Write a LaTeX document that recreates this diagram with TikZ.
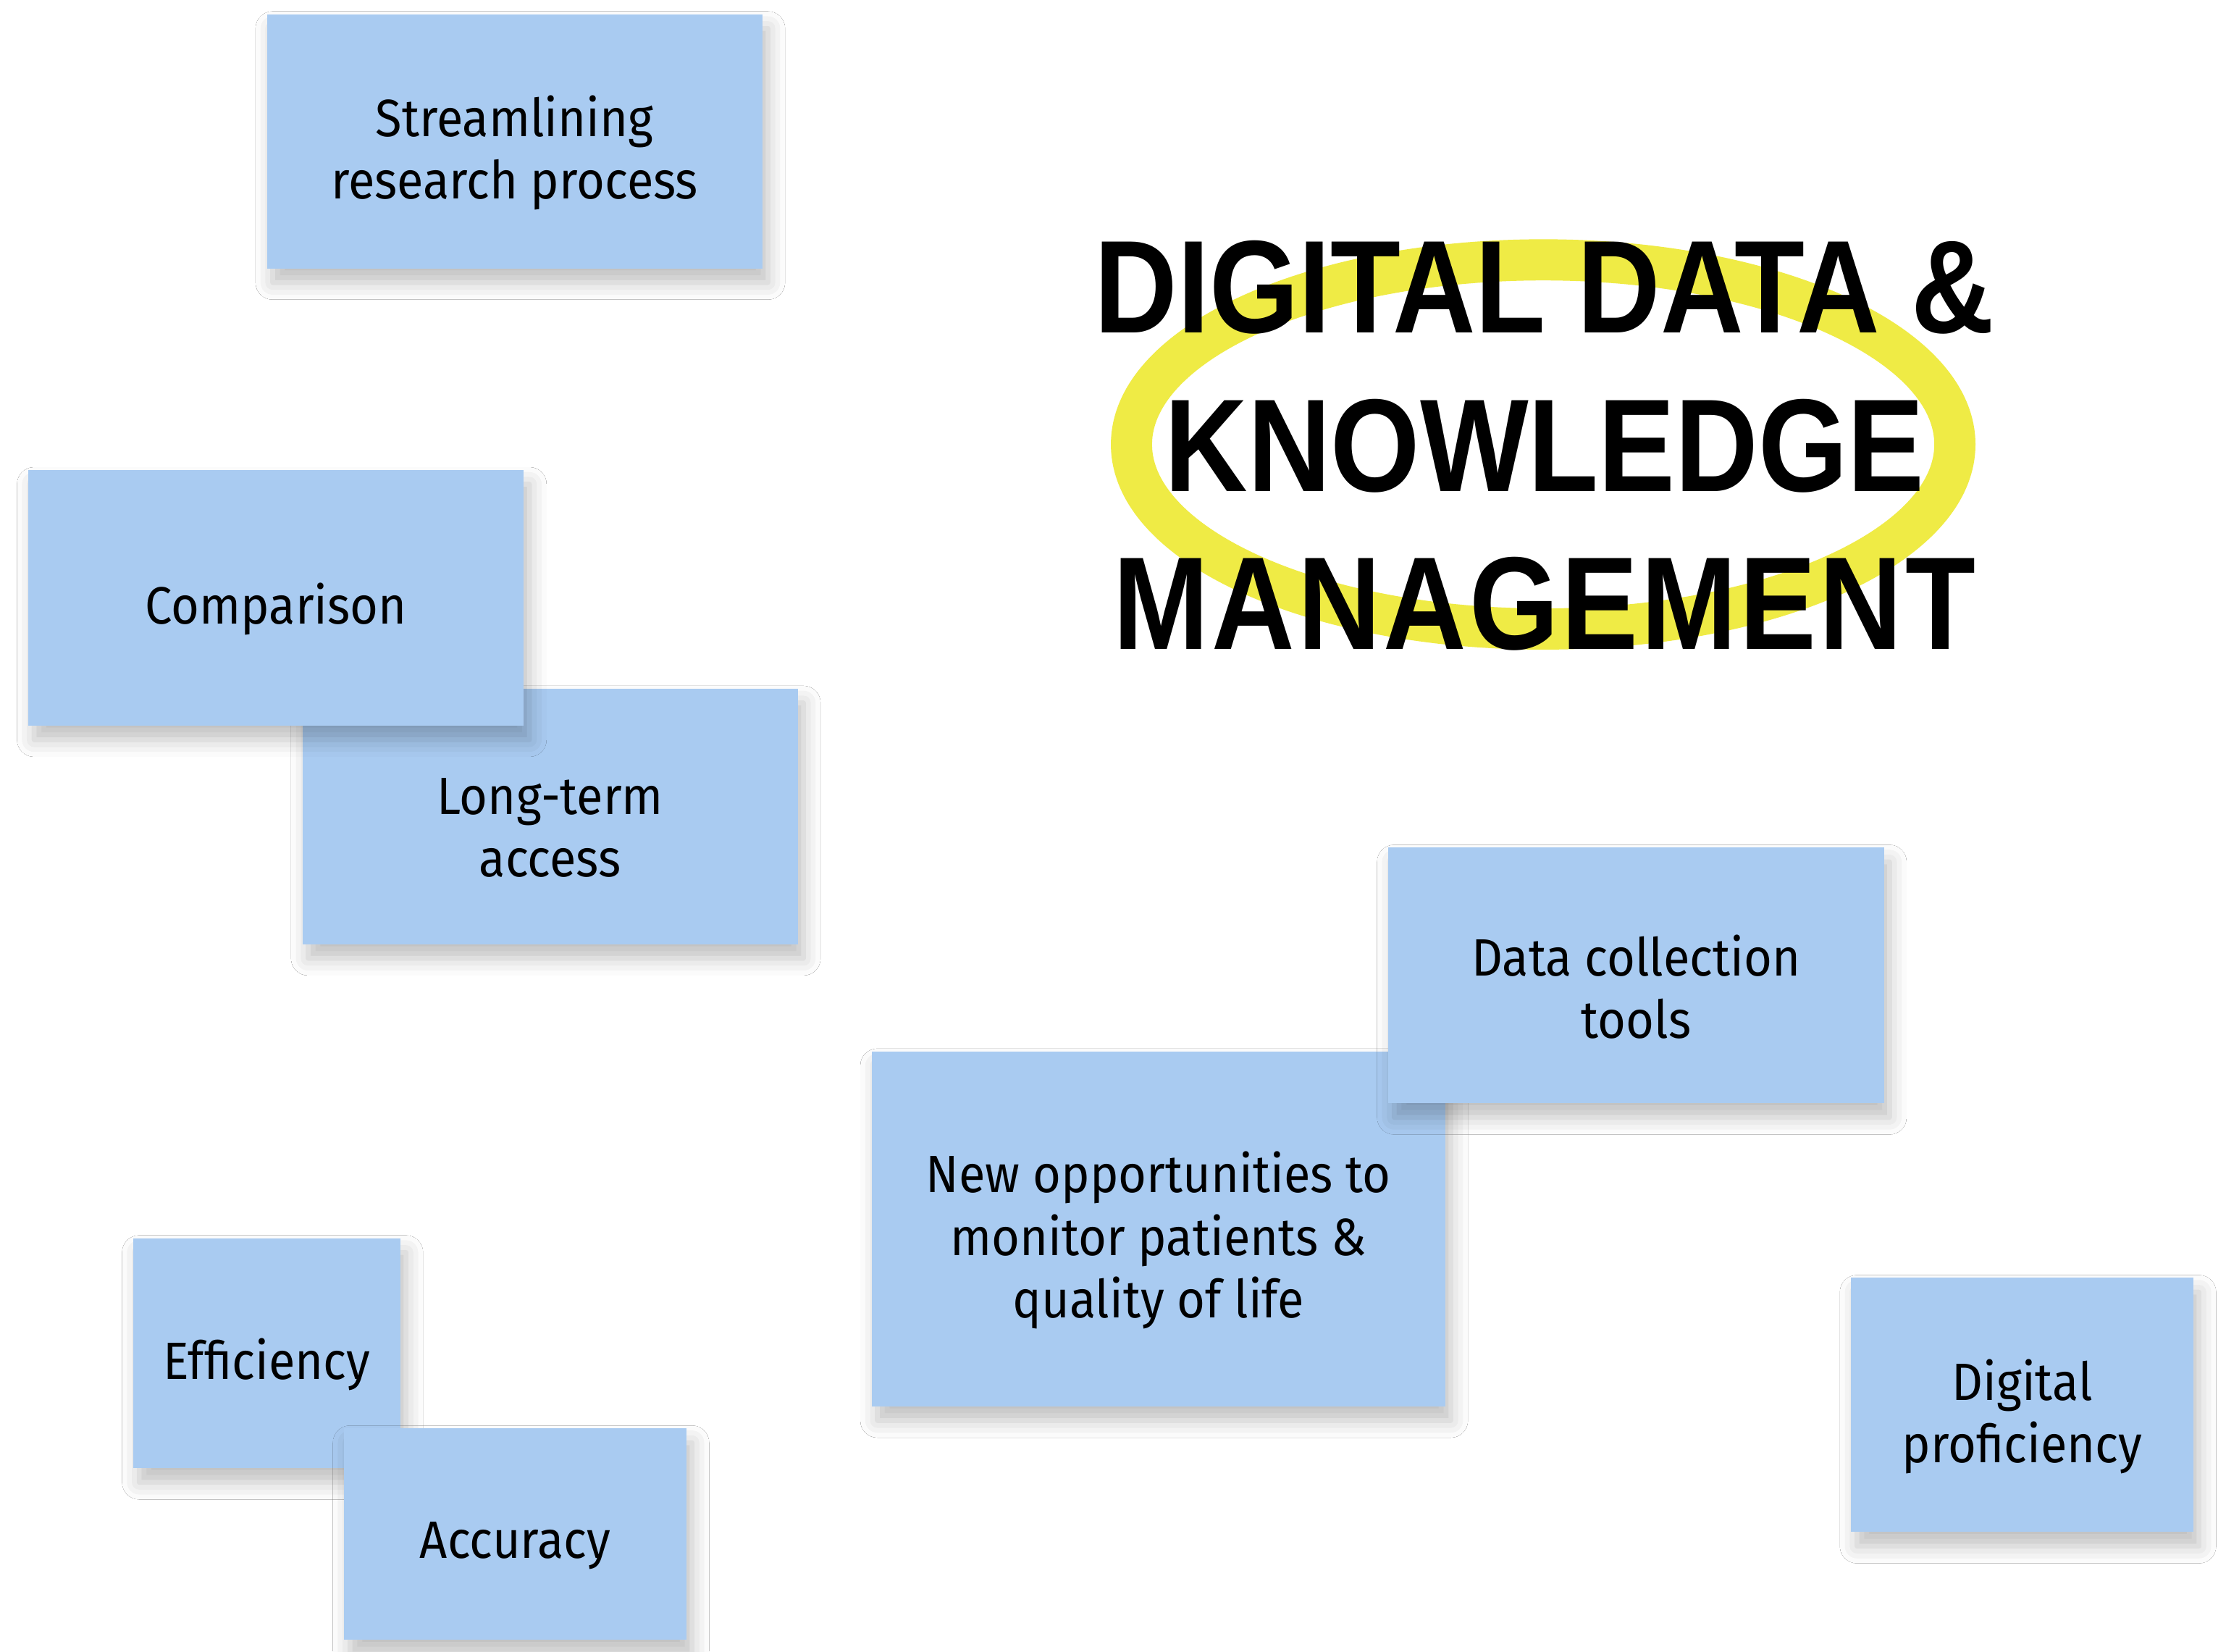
\documentclass[tikz,border=0pt]{standalone}
\usepackage{fontspec}
\setmainfont{Fira Sans}[FakeStretch=0.92]
\newfontfamily\titlefont{Liberation Sans}[FakeStretch=0.87]
\usetikzlibrary{shadows.blur}

\definecolor{cardblue}{HTML}{A9CBF1}
\definecolor{ringyellow}{HTML}{EFEB45}

\tikzset{
  card/.style={fill=cardblue, inner sep=0pt,
    blur shadow={shadow xshift=4pt, shadow yshift=-10pt, shadow blur radius=12pt, shadow opacity=25}},
  cardtext/.style={align=center, font=\fontsize{37}{44}\selectfont, yshift=-8pt},
  headline/.style={align=center, font=\titlefont\bfseries\fontsize{93}{111.5}\selectfont}
}

\begin{document}
\begin{tikzpicture}[x=1pt, y=-1pt]
		\path[use as bounding box, fill=white] (0,0) rectangle (1568,1163);

		% highlight ring behind the title
		\draw[ringyellow, line width=29pt] (1087,313) ellipse [x radius=290pt, y radius=130pt];
		\node[headline] (title) at (1088,314) {DIGITAL DATA \&\\KNOWLEDGE\\{\addfontfeature{LetterSpace=2.2}MANAGEMENT}};

		\node[card, minimum width=349pt, minimum height=179pt, label={[cardtext]center:{Streamlining\\research process}}] (stream) at (362.5,99.5) {};
		\node[card, minimum width=349pt, minimum height=180pt, label={[cardtext]center:{Long-term\\access}}] (longterm) at (387.5,575) {};
		\node[card, minimum width=349pt, minimum height=180pt, label={[cardtext]center:Comparison}] (compare) at (194.5,421) {};

		\node[card, minimum width=404pt, minimum height=250pt, label={[cardtext]center:{New opportunities to\\monitor patients \&\\quality of life}}] (newopp) at (816,865.5) {};
		\node[card, minimum width=349pt, minimum height=180pt, label={[cardtext]center:{Data collection\\tools}}] (datatools) at (1152.5,687) {};

		\node[card, minimum width=188pt, minimum height=162pt, label={[cardtext]center:Efficiency}] (effic) at (188,953) {};
		\node[card, minimum width=241pt, minimum height=149pt, label={[cardtext]center:Accuracy}] (accur) at (363,1080.5) {};

		\node[card, minimum width=241pt, minimum height=179pt, label={[cardtext]center:{Digital\\proficiency}}] (digprof) at (1424.5,989.5) {};
	\end{tikzpicture}
\end{document}
